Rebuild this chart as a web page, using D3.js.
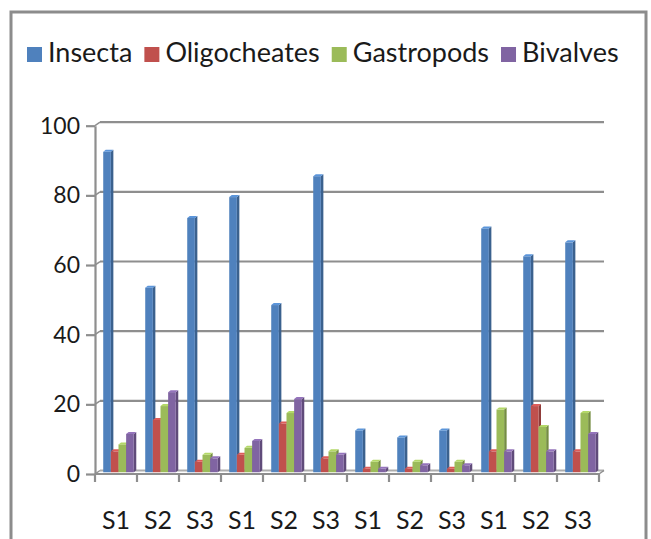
<!DOCTYPE html>
<html>
<head>
<meta charset="utf-8">
<script src="https://cdn.jsdelivr.net/npm/d3@7"></script>
<style>
	body { margin: 0; background: #fff; }
	svg { display: block; }
	text { font-family: Lato, "Open Sans", sans-serif; fill: #1a1a1a; }
</style>
</head>
<body>
<div id="chart"></div>
<script>
"use strict";

/* global d3 */

// data
var sites = ["S1", "S2", "S3", "S1", "S2", "S3", "S1", "S2", "S3", "S1", "S2", "S3"];
var seriesNames = ["Insecta", "Oligocheates", "Gastropods", "Bivalves"];
var insecta = [92, 53, 73, 79, 48, 85, 12, 10, 12, 70, 62, 66];
var oligocheates = [6, 15, 3, 5, 14, 4, 1, 1, 1, 6, 19, 6];
var gastropods = [8, 19, 5, 7, 17, 6, 3, 3, 3, 18, 13, 17];
var bivalves = [11, 23, 4, 9, 21, 5, 1, 2, 2, 6, 6, 11];
var yTicks = [0, 20, 40, 60, 80, 100];

var seriesValues = [insecta, oligocheates, gastropods, bivalves];
var colors = ["#4f81bd", "#c0504d", "#9bbb59", "#8064a2"];

(function() {
	var width = 651, height = 539;
	// 3d depth offset of the back wall
	var DX = 5, DY = -3.5;
	var gridColor = "#8e8e8e";

	var svg = d3.select("#chart").append("svg")
		.attr("width", width)
		.attr("height", height);

	// outer frame of the chart
	svg.append("rect")
		.attr("x", 11).attr("y", 12)
		.attr("width", 635).attr("height", 600)
		.attr("fill", "none")
		.attr("stroke", "#8c8c8c")
		.attr("stroke-width", 3);

	var x0 = d3.scaleBand().domain(d3.range(sites.length)).range([95, 599]);
	var gw = x0.step();
	var x1 = d3.scaleBand().domain(d3.range(seriesNames.length))
		.range([gw * 0.75 / 5.5, gw - gw * 0.75 / 5.5]);
	var y = d3.scaleLinear().domain([0, 100]).range([474, 125.7]);

	// back wall gridlines + little connectors to the axis
	var grid = svg.append("g");
	yTicks.forEach(function(v) {
		grid.append("line")
			.attr("x1", x0.range()[0] + DX).attr("x2", x0.range()[1] + DX)
			.attr("y1", y(v) + DY).attr("y2", y(v) + DY)
			.attr("stroke", v === 0 ? "#adadad" : gridColor)
			.attr("stroke-width", 2.2);
		grid.append("line")
			.attr("x1", x0.range()[0]).attr("y1", y(v))
			.attr("x2", x0.range()[0] + DX).attr("y2", y(v) + DY)
			.attr("stroke", gridColor).attr("stroke-width", 1.5);
	});
	// right edge of the floor
	grid.append("line")
		.attr("x1", x0.range()[1]).attr("y1", y(0))
		.attr("x2", x0.range()[1] + DX).attr("y2", y(0) + DY)
		.attr("stroke", gridColor).attr("stroke-width", 1.5);

	// bars, drawn as front face + side + top
	var sd = 2.5, sdy = 2;
	var bars = svg.append("g");
	sites.forEach(function(site, i) {
		seriesValues.forEach(function(vals, s) {
			var c = d3.color(colors[s]);
			var bx = x0(i) + x1(s) + DX / 2;
			var bw = x1.bandwidth();
			var top = y(vals[i]) + DY / 2;
			var bottom = y(0) + DY / 2;
			var g = bars.append("g");
			g.append("polygon")
				.attr("points", [[bx + bw, top], [bx + bw + sd, top - sdy],
					[bx + bw + sd, bottom - sdy], [bx + bw, bottom]].join(" "))
				.attr("fill", c.darker(0.8));
			g.append("rect")
				.attr("x", bx).attr("y", top)
				.attr("width", bw).attr("height", bottom - top)
				.attr("fill", c);
			g.append("polygon")
				.attr("points", [[bx, top], [bx + sd, top - sdy],
					[bx + bw + sd, top - sdy], [bx + bw, top]].join(" "))
				.attr("fill", c.brighter(0.4));
		});
	});

	// y axis
	var yAxis = svg.append("g")
		.attr("transform", "translate(" + x0.range()[0] + ",0)")
		.call(d3.axisLeft(y).tickValues(yTicks).tickSize(9).tickPadding(6).tickSizeOuter(0));
	yAxis.select(".domain").attr("stroke", gridColor).attr("stroke-width", 2.2);
	yAxis.selectAll(".tick line").attr("stroke", gridColor).attr("stroke-width", 2.2);
	yAxis.selectAll(".tick text")
		.style("font-family", "Lato, 'Open Sans', sans-serif")
		.attr("font-size", 23).attr("fill", "#1a1a1a");

	// x axis: line, group boundary ticks, labels
	var xAxis = svg.append("g");
	xAxis.append("line")
		.attr("x1", x0.range()[0]).attr("x2", x0.range()[1])
		.attr("y1", y(0)).attr("y2", y(0))
		.attr("stroke", gridColor).attr("stroke-width", 2.2);
	xAxis.selectAll("line.tk")
		.data(d3.range(sites.length + 1))
		.join("line")
		.attr("class", "tk")
		.attr("x1", function(d) { return x0.range()[0] + d * gw; })
		.attr("x2", function(d) { return x0.range()[0] + d * gw; })
		.attr("y1", y(0)).attr("y2", y(0) + 8)
		.attr("stroke", gridColor).attr("stroke-width", 2.2);
	xAxis.selectAll("text")
		.data(sites)
		.join("text")
		.attr("x", function(d, i) { return x0(i) + gw / 2; })
		.attr("y", 529)
		.attr("text-anchor", "middle")
		.attr("font-size", 25)
		.text(function(d) { return d; });

	// legend, laid out left to right
	var legend = svg.append("g");
	var lx = 27;
	seriesNames.forEach(function(name, s) {
		legend.append("rect")
			.attr("x", lx).attr("y", 47)
			.attr("width", 15).attr("height", 15)
			.attr("fill", colors[s]);
		var t = legend.append("text")
			.attr("x", lx + 21).attr("y", 62)
			.attr("font-size", 27)
			.text(name);
		lx += 21 + t.node().getComputedTextLength() + 12;
	});
}());
</script>
</body>
</html>
